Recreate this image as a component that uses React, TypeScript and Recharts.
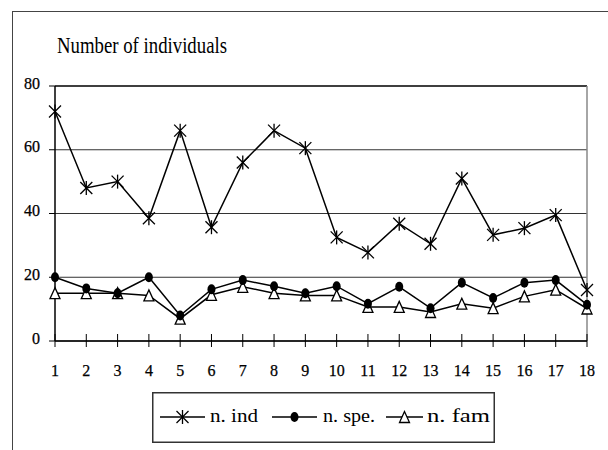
import { CartesianGrid, Legend, Line, LineChart, ReferenceLine, XAxis, YAxis } from "recharts";

// sampling sites along the x axis
const sites = [1, 2, 3, 4, 5, 6, 7, 8, 9, 10, 11, 12, 13, 14, 15, 16, 17, 18];
const nInd = [72, 48, 50, 38.5, 66, 35.7, 56, 66, 60.5, 32.5, 27.8, 36.8, 30.5, 51, 33.3, 35.4, 39.5, 16];
const nSpe = [20, 16.5, 15, 20, 8, 16.2, 19.1, 17.2, 15, 17.2, 11.7, 17, 10.3, 18.3, 13.5, 18.3, 19.1, 11.4];
const nFam = [15, 15, 15, 14.3, 7, 14.5, 17, 15, 14.3, 14.3, 10.7, 10.7, 9.1, 11.7, 10.3, 14, 16.1, 10.2];
const yTicks = [0, 20, 40, 60, 80];

const FONT = "Liberation Serif";
const txt = { fontFamily: FONT };
// tick numbers look a little heavier in the original
const tickTxt = { fontFamily: FONT, stroke: "#000", strokeWidth: 0.25 };

type Shape = "star" | "dot" | "triangle";

const series: { key: string; name: string; shape: Shape }[] = [
  { key: "ind", name: "n. ind", shape: "star" },
  { key: "spe", name: "n. spe.", shape: "dot" },
  { key: "fam", name: "n. fam", shape: "triangle" },
];

// legend item placement inside the box (line start/end, text start, text length)
const legendLayout = [
  { x0: 8, x1: 53, tx: 58, tl: 48 },
  { x0: 120, x1: 165, tx: 171, tl: 52 },
  { x0: 234, x1: 271, tx: 275, tl: 63 },
];

const data = sites.map((site, i) => ({ site, ind: nInd[i], spe: nSpe[i], fam: nFam[i] }));

function Marker({ shape, cx, cy }: { shape: Shape; cx: number; cy: number }) {
  if (shape === "star") {
    return (
      <g stroke="#000" strokeWidth={1.3}>
        <line x1={cx - 6} y1={cy - 6} x2={cx + 6} y2={cy + 6} />
        <line x1={cx + 6} y1={cy - 6} x2={cx - 6} y2={cy + 6} />
        <line x1={cx} y1={cy - 7} x2={cx} y2={cy + 7} />
      </g>
    );
  }
  if (shape === "dot") {
    return <ellipse cx={cx} cy={cy} rx={4} ry={5} fill="#000" />;
  }
  return (
    <polygon
      points={`${cx},${cy - 5.5} ${cx - 5},${cy + 5.5} ${cx + 5},${cy + 5.5}`}
      fill="#fff"
      stroke="#000"
      strokeWidth={1.3}
    />
  );
}

function XTick({ x, y, payload }: any) {
  return (
    <g>
      <line x1={x} x2={x} y1={y - 7} y2={y + 6} stroke="#000" />
      <text x={x} y={y + 35} textAnchor="middle" style={tickTxt} fontSize={16} fill="#000">
        {payload.value}
      </text>
    </g>
  );
}

function YTick({ x, y, payload }: any) {
  return (
    <g>
      <line x1={x - 6} x2={x} y1={y} y2={y} stroke="#000" />
      <text x={x - 15} y={y + 2.5} textAnchor="end" style={tickTxt} fontSize={16} fill="#000">
        {payload.value}
      </text>
    </g>
  );
}

function LegendBox() {
  return (
    <svg width={343} height={51} style={{ display: "block" }}>
      <rect x={0.75} y={0.75} width={341.5} height={49.5} fill="#fff" stroke="#333" strokeWidth={1.5} />
      {series.map((s, i) => {
        const l = legendLayout[i];
        return (
          <g key={s.key}>
            <line x1={l.x0} x2={l.x1} y1={25} y2={25} stroke="#000" strokeWidth={1.5} />
            <Marker shape={s.shape} cx={(l.x0 + l.x1) / 2} cy={25} />
            <text
              x={l.tx}
              y={30}
              style={txt}
              fontSize={19}
              textLength={l.tl}
              lengthAdjust="spacingAndGlyphs"
              fill="#000"
            >
              {s.name}
            </text>
          </g>
        );
      })}
    </svg>
  );
}

const drawOrder = ["ind", "fam", "spe"];

export default function App() {
  return (
    <div style={{ position: "absolute", left: 0, top: 0, width: 608, height: 450, background: "#fff" }}>
      <div
        style={{
          position: "absolute",
          left: 12,
          top: 11,
          width: 600,
          height: 440,
          borderTop: "1.5px solid #444",
          borderLeft: "1.5px solid #444",
        }}
      />
      <LineChart width={608} height={450} data={data} margin={{ top: 86, right: 21, bottom: 64, left: 10 }}>
        <CartesianGrid vertical={false} stroke="#333" />
        <XAxis
          dataKey="site"
          interval={0}
          tickLine={false}
          tickSize={0}
          tickMargin={0}
          axisLine={{ stroke: "#000", strokeWidth: 1.5 }}
          height={45}
          tick={<XTick />}
        />
        <YAxis
          domain={[0, 80]}
          ticks={yTicks}
          interval={0}
          tickLine={false}
          tickSize={0}
          tickMargin={0}
          axisLine={{ stroke: "#000", strokeWidth: 1.5 }}
          width={45}
          tick={<YTick />}
        />
        <ReferenceLine y={80} stroke="#222" strokeWidth={1.5} />
        <ReferenceLine x={18} stroke="#888" strokeWidth={1.5} />
        {drawOrder.map((key) => {
          const s = series.find((d) => d.key === key)!;
          return (
            <Line
              key={s.key}
              dataKey={s.key}
              name={s.name}
              stroke="#000"
              strokeWidth={1.5}
              isAnimationActive={false}
              activeDot={false}
              dot={(p: any) => <Marker key={`${s.key}-${p.index}`} shape={s.shape} cx={p.cx} cy={p.cy} />}
            />
          );
        })}
        <Legend
          layout="horizontal"
          verticalAlign="middle"
          align="center"
          wrapperStyle={{ left: 152, top: 392, width: 343, height: 51 }}
          content={() => <LegendBox />}
        />
      </LineChart>
      <svg width={608} height={70} style={{ position: "absolute", left: 0, top: 0, pointerEvents: "none" }}>
        <text
          x={57}
          y={53}
          style={txt}
          fontSize={24}
          textLength={170}
          lengthAdjust="spacingAndGlyphs"
          fill="#000"
        >
          Number of individuals
        </text>
      </svg>
    </div>
  );
}
